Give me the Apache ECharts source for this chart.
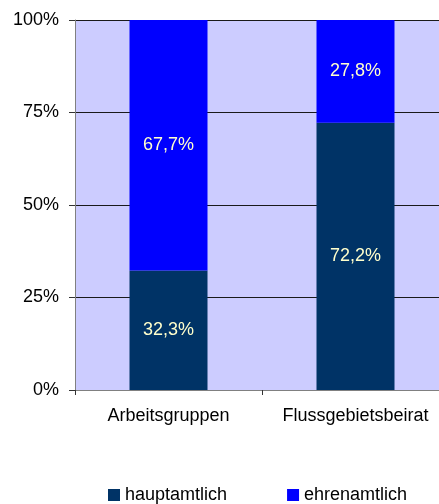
<!DOCTYPE html>
<html>
<head>
<meta charset="utf-8">
<script src="https://cdn.jsdelivr.net/npm/echarts@6/dist/echarts.min.js"></script>
<style>
  html, body { margin: 0; padding: 0; background: #fff; }
  #chart { width: 439px; height: 504px; }
</style>
</head>
<body>
<div id="chart"></div>
<script>
var categories = ['Arbeitsgruppen', 'Flussgebietsbeirat'];
var hauptamtlich = [32.3, 72.2];
var ehrenamtlich = [67.7, 27.8];

var myChart = echarts.init(document.getElementById('chart'));

function pct(p) {
  return p.value.toFixed(1).replace('.', ',') + '%';
}

myChart.setOption({
  textStyle: { fontFamily: 'Liberation Sans' },
  grid: {
    left: 75,
    top: 20,
    right: -10,
    bottom: 114,
    outerBoundsMode: 'none',
    containLabel: false,
    show: true,
    backgroundColor: '#CCCCFF',
    borderWidth: 0
  },
  legend: {
    top: 481,
    left: 103,
    itemWidth: 12,
    itemHeight: 12,
    itemGap: 60,
    icon: 'rect',
    textStyle: { color: '#000', fontSize: 18, fontFamily: 'Liberation Sans' },
    data: ['hauptamtlich', 'ehrenamtlich']
  },
  xAxis: {
    type: 'category',
    data: categories,
    axisLine: { lineStyle: { color: '#808080', width: 1 } },
    axisTick: { show: true, interval: 0, alignWithLabel: false, length: 5, lineStyle: { color: '#333' } },
    axisLabel: { color: '#000', fontSize: 18, margin: 17, interval: 0, hideOverlap: false }
  },
  yAxis: {
    type: 'value',
    min: 0,
    max: 100,
    interval: 25,
    axisLine: { show: true, lineStyle: { color: '#808080' } },
    axisTick: { show: true, length: 6, lineStyle: { color: '#333' } },
    axisLabel: { color: '#000', fontSize: 18, margin: 16, formatter: '{value}%' },
    splitLine: { lineStyle: { color: '#1a1a1a', width: 1 } }
  },
  series: [{
    name: 'hauptamtlich',
    type: 'bar',
    stack: 'total',
    barWidth: 78,
    data: hauptamtlich,
    itemStyle: { color: '#003366' },
    label: { show: true, position: 'inside', color: '#FFFFCC', fontSize: 18, formatter: pct }
  }, {
    name: 'ehrenamtlich',
    type: 'bar',
    stack: 'total',
    barWidth: 78,
    data: ehrenamtlich,
    itemStyle: { color: '#0000FF' },
    label: { show: true, position: 'inside', color: '#FFFFCC', fontSize: 18, formatter: pct }
  }]
});
</script>
</body>
</html>
